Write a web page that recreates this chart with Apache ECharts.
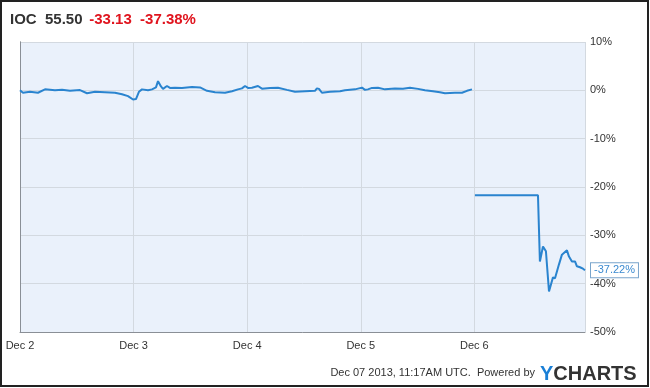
<!DOCTYPE html>
<html><head><meta charset="utf-8">
<script src="https://cdn.jsdelivr.net/npm/echarts@6/dist/echarts.min.js"></script>
<style>html,body{margin:0;padding:0;background:#fff}#c{width:650px;height:388px}</style>
</head><body><div id="c"></div>
<script>
// Days elapsed since Dec 2 (0 = Dec 2 open)
const dayOffsets = [0,0.026,0.088,0.158,0.220,0.308,0.370,0.440,0.528,0.590,0.660,0.748,0.836,0.898,0.951,
0.968,0.995,1.021,1.047,1.074,1.127,1.162,1.197,1.215,1.241,1.259,1.294,1.320,1.364,1.426,1.514,1.585,1.646,1.717,1.805,1.866,1.919,1.954,1.981,
2.007,2.042,2.095,2.130,2.201,2.271,2.350,2.421,2.509,2.597,2.614,2.632,2.658,2.729,2.817,2.861,2.949,2.984,
3.011,3.037,3.063,3.099,3.151,3.213,3.301,3.371,3.433,3.504,3.565,3.636,3.697,3.741,3.829,3.891,3.935,3.979,
3.992,
4.005,4.560,4.577,4.604,4.630,4.657,4.692,4.710,4.745,4.771,4.815,4.833,4.859,4.886,4.903,4.930,4.956,4.974];
// % change
const pctValues = [0,-0.5,-0.3,-0.5,0.2,0,0.1,-0.1,0.05,-0.6,-0.3,-0.4,-0.5,-0.8,-1.2,
-1.3,-1.9,-1.8,-0.3,0.2,0,0.2,0.6,1.9,0.8,0.3,0.9,0.5,0.55,0.5,0.7,0.6,-0.1,-0.4,-0.5,-0.2,0.2,0.4,0.9,
0.5,0.55,0.9,0.35,0.5,0.55,0.1,-0.3,-0.2,-0.1,0.4,0.3,-0.5,-0.3,-0.2,0,0.2,0.4,
0.55,0.1,0.2,0.5,0.55,0.2,0.4,0.35,0.55,0.3,0,-0.2,-0.4,-0.6,-0.5,-0.5,-0.1,0.2,
null,
-21.7,-21.7,-35.4,-32.3,-33.3,-41.6,-38.7,-38.9,-36,-34,-33.1,-34.4,-35.4,-35.4,-36.4,-36.6,-36.9,-37.22];
const dayLabels = ['Dec 2','Dec 3','Dec 4','Dec 5','Dec 6'];
const yTicks = [10,0,-10,-20,-30,-40,-50];
const titleTicker = 'IOC', titlePrice = '55.50', titleChg = '-33.13', titlePct = '-37.38%';
const footerText = 'Dec 07 2013, 11:17AM UTC.  Powered by';

const data = dayOffsets.map((d,i)=>[d, pctValues[i]]);
const chart = echarts.init(document.getElementById('c'), null, {renderer:'canvas'});
const F = 'Liberation Sans, Arial, sans-serif';
chart.setOption({
  animation:false,
  backgroundColor:'#fff',
  grid:{left:20,right:65,top:42,bottom:56,show:true,backgroundColor:'#eaf1fb',borderWidth:0},
  xAxis:{type:'value',min:0,max:4.974,interval:1,
    axisLine:{show:true,onZero:false,lineStyle:{color:'#8a8f96',width:1}},
    axisTick:{show:false},
    splitLine:{show:true,lineStyle:{color:'#d3d9e0',width:1}},
    axisLabel:{color:'#333',fontFamily:F,fontSize:11,margin:8,showMaxLabel:false,
      formatter:v=>Number.isInteger(v)?(dayLabels[v]||''):''}},
  yAxis:[{type:'value',position:'right',min:-50,max:10,interval:10,
    axisLine:{show:true,lineStyle:{color:'#8a8f96'}},axisTick:{show:false},
    splitLine:{show:true,lineStyle:{color:'#d3d9e0'}},
    axisLabel:{color:'#333',fontFamily:F,fontSize:11,margin:5,formatter:v=>yTicks.includes(v)?v+'%':''}},
   {type:'value',position:'left',min:-50,max:10,interval:10,
    axisLine:{show:true,lineStyle:{color:'#8a8f96'}},axisTick:{show:false},
    splitLine:{show:false},axisLabel:{show:false}}],
  series:[{type:'line',data:data,showSymbol:false,connectNulls:false,
    lineStyle:{color:'#2a84cf',width:2},
    endLabel:{show:true,formatter:p=>p.value[1].toFixed(2)+'%',color:'#3b8ad0',fontFamily:F,fontSize:11,
      backgroundColor:'#fff',borderColor:'#7aa5cc',borderWidth:1,padding:[2,3,1,3],distance:6}}],
  graphic:[
    {type:'rect',shape:{x:1,y:1,width:647,height:385},style:{fill:'none',stroke:'#222',lineWidth:2},silent:true,z:100},
    {type:'text',left:10,top:12,style:{rich:{a:{fontFamily:F,fontSize:15,fontWeight:'bold',fill:'#333'},
      r:{fontFamily:F,fontSize:15,fontWeight:'bold',fill:'#e0141e'}},
      text:'{a|'+titleTicker+'  '+titlePrice+'}  {r|'+titleChg+'  '+titlePct+'}'}},
    {type:'text',right:115,top:367,style:{text:footerText,fontFamily:F,fontSize:11,fill:'#333'}},
    {type:'text',left:540,top:364,style:{rich:{y:{fontFamily:F,fontSize:20,fontWeight:'bold',fill:'#1a7fd6'},
      c:{fontFamily:F,fontSize:20,fontWeight:'bold',fill:'#333'}},text:'{y|Y}{c|CHARTS}'}}
  ]
});
</script></body></html>
